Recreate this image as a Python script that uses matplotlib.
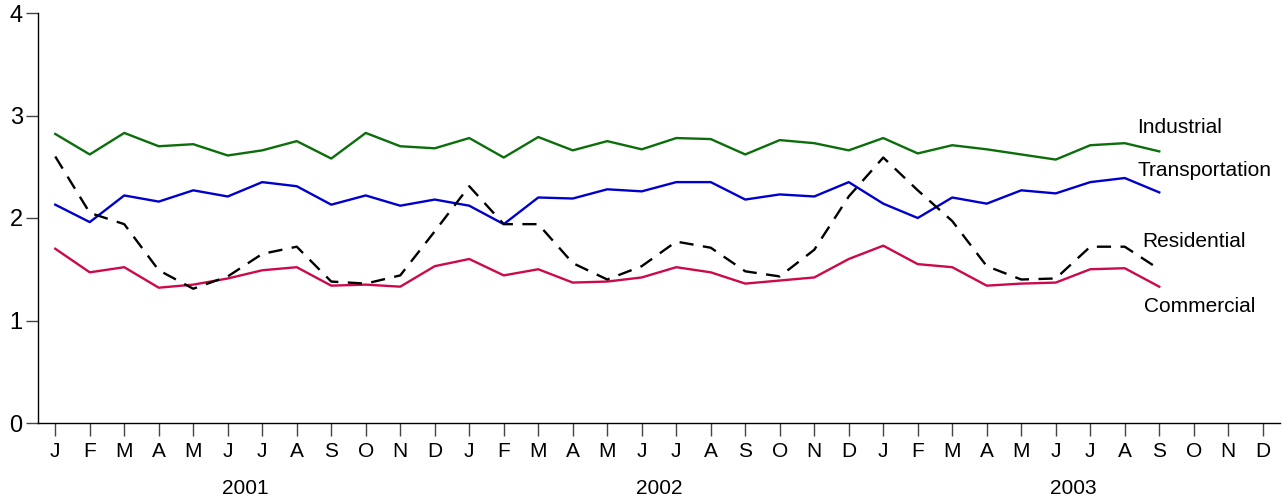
import numpy as np
import matplotlib.pyplot as plt

plt.rcParams['font.family'] = ['Liberation Sans', 'DejaVu Sans']

# monthly price series, Jan 2001 - Sep 2003
months = ["J", "F", "M", "A", "M", "J", "J", "A", "S", "O", "N", "D"] * 3
years = ["2001", "2002", "2003"]

industrial = [2.82, 2.62, 2.83, 2.70, 2.72, 2.61, 2.66, 2.75, 2.58, 2.83, 2.70, 2.68,
              2.78, 2.59, 2.79, 2.66, 2.75, 2.67, 2.78, 2.77, 2.62, 2.76, 2.73, 2.66,
              2.78, 2.63, 2.71, 2.67, 2.62, 2.57, 2.71, 2.73, 2.65]
transportation = [2.13, 1.96, 2.22, 2.16, 2.27, 2.21, 2.35, 2.31, 2.13, 2.22, 2.12, 2.18,
                  2.12, 1.94, 2.20, 2.19, 2.28, 2.26, 2.35, 2.35, 2.18, 2.23, 2.21, 2.35,
                  2.14, 2.00, 2.20, 2.14, 2.27, 2.24, 2.35, 2.39, 2.25]
residential = [2.60, 2.05, 1.94, 1.49, 1.31, 1.43, 1.65, 1.72, 1.38, 1.36, 1.44, 1.87,
               2.31, 1.94, 1.94, 1.56, 1.40, 1.53, 1.77, 1.71, 1.48, 1.43, 1.69, 2.21,
               2.59, 2.27, 1.97, 1.53, 1.40, 1.41, 1.72, 1.72, 1.50]
commercial = [1.70, 1.47, 1.52, 1.32, 1.35, 1.41, 1.49, 1.52, 1.34, 1.35, 1.33, 1.53,
              1.60, 1.44, 1.50, 1.37, 1.38, 1.42, 1.52, 1.47, 1.36, 1.39, 1.42, 1.60,
              1.73, 1.55, 1.52, 1.34, 1.36, 1.37, 1.50, 1.51, 1.33]

fig = plt.figure(figsize=(12.84, 5.0), dpi=100)
ax = fig.add_axes([38 / 1284, 77 / 500, 1242 / 1284, 410 / 500])

x = np.arange(len(industrial))
ax.plot(x, industrial, color="#0b6e0b", lw=1.7)
ax.plot(x, transportation, color="#0000cc", lw=1.7)
ax.plot(x, commercial, color="#cc0a4a", lw=1.7)
ax.plot(x, residential, color="black", lw=1.7, dashes=(6, 4))

# series names at the right end
ax.text(31.37, 2.88, "Industrial", ha="left", va="center", fontsize=15)
ax.text(31.37, 2.46, "Transportation", ha="left", va="center", fontsize=15)
ax.text(31.52, 1.77, "Residential", ha="left", va="center", fontsize=15)
ax.text(31.55, 1.14, "Commercial", ha="left", va="center", fontsize=15)

ax.set_xlim(-0.5, 35.5)
ax.set_ylim(0, 4)
ax.set_xticks(np.arange(len(months)))
ax.set_xticklabels(months, fontsize=15)
ax.set_yticks([0, 1, 2, 3, 4])
ax.set_yticklabels(["0", "1", "2", "3", "4"], fontsize=17)
ax.tick_params(axis="x", length=9, width=1, color="#444444", pad=5)
ax.tick_params(axis="y", length=9, width=1, color="#444444", pad=2)

for k, yr in enumerate(years):
    ax.text(12 * k + 5.5, -0.159, yr, transform=ax.get_xaxis_transform(),
            ha="center", va="center", fontsize=15)

ax.spines["top"].set_visible(False)
ax.spines["right"].set_visible(False)
for s in ("left", "bottom"):
    ax.spines[s].set_linewidth(1.0)

fig.savefig("out.png", dpi=100)
